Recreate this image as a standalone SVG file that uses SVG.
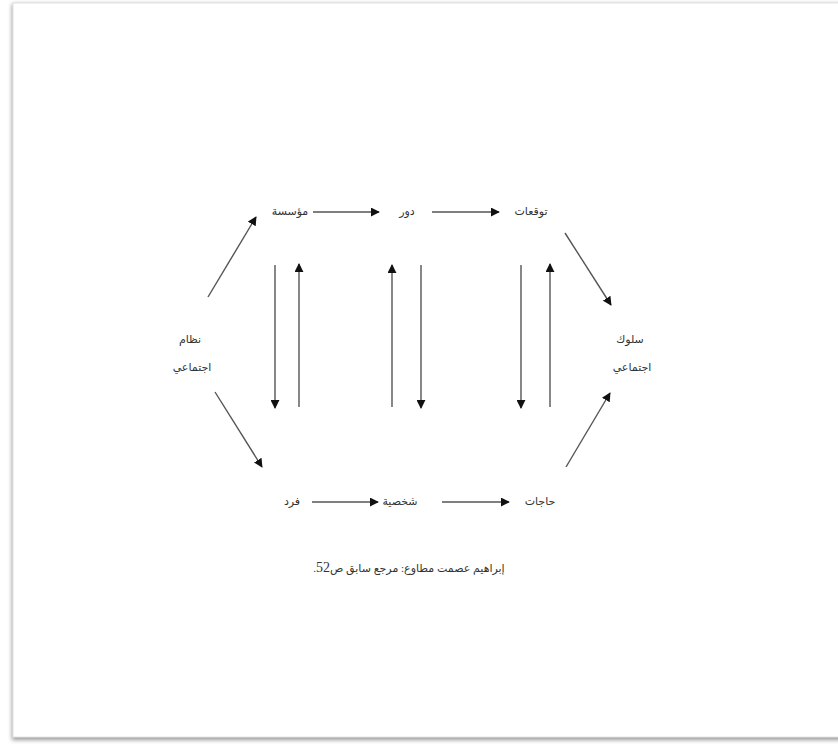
<svg xmlns="http://www.w3.org/2000/svg" width="838" height="744" viewBox="0 0 838 744">
<defs>
<marker id="ah" viewBox="0 0 10 10" refX="9" refY="5" markerWidth="9" markerHeight="9" markerUnits="userSpaceOnUse" orient="auto">
<path d="M0,0 L10,5 L0,10 z" fill="#111"/>
</marker>
<filter id="sh" x="-5%" y="-5%" width="110%" height="110%">
<feGaussianBlur stdDeviation="2"/>
</filter>
</defs>
<style>
.t{font-family:"Liberation Serif","DejaVu Sans",serif;font-size:11px;fill:#333;text-anchor:middle;dominant-baseline:middle;direction:rtl}
.c{stroke:#555;stroke-width:1.4;fill:none;marker-end:url(#ah)}
</style>
<rect width="838" height="744" fill="#fff"/>
<g id="page">
<rect x="12" y="4" width="830" height="736" fill="#999" filter="url(#sh)"/>
<rect x="13" y="3" width="830" height="734" fill="#fff" stroke="#e4e4e4" stroke-width="1"/>
</g>
<g id="connectors">
<line class="c" x1="313" y1="212" x2="379" y2="212"/>
<line class="c" x1="432" y1="212" x2="499" y2="212"/>
<line class="c" x1="312" y1="502" x2="378" y2="502"/>
<line class="c" x1="442" y1="502" x2="509" y2="502"/>
<line class="c" x1="208" y1="297" x2="256" y2="217"/>
<line class="c" x1="215" y1="392" x2="262" y2="467"/>
<line class="c" x1="565" y1="233" x2="611" y2="305"/>
<line class="c" x1="566" y1="467" x2="610" y2="393"/>
<line class="c" x1="275" y1="265" x2="275" y2="408"/>
<line class="c" x1="299" y1="407" x2="299" y2="264"/>
<line class="c" x1="392" y1="407" x2="392" y2="265"/>
<line class="c" x1="421" y1="265" x2="421" y2="408"/>
<line class="c" x1="521" y1="265" x2="521" y2="408"/>
<line class="c" x1="550" y1="407" x2="550" y2="264"/>
</g>
<g id="n-muassasa"><text class="t" x="290" y="212">مؤسسة</text></g>
<g id="n-dawr"><text class="t" x="407" y="212">دور</text></g>
<g id="n-tawaqqu"><text class="t" x="531" y="212">توقعات</text></g>
<g id="n-nizam"><text class="t" x="190" y="340">نظام</text><text class="t" x="192" y="368">اجتماعي</text></g>
<g id="n-suluk"><text class="t" x="630" y="340">سلوك</text><text class="t" x="632" y="368">اجتماعي</text></g>
<g id="n-fard"><text class="t" x="292" y="502">فرد</text></g>
<g id="n-shakhsiya"><text class="t" x="400" y="502">شخصية</text></g>
<g id="n-hajat"><text class="t" x="540" y="502">حاجات</text></g>
<g id="caption"><text class="t" x="409" y="569" direction="rtl" style="font-size:11px">إبراهيم عصمت مطاوع: مرجع سابق ص<tspan style="font-size:14px">52</tspan>.</text></g>
</svg>
